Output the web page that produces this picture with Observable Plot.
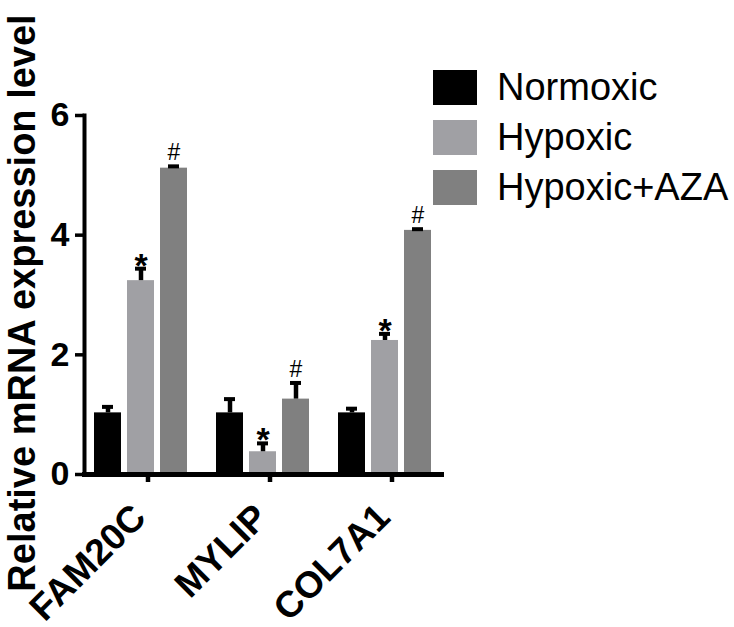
<!DOCTYPE html>
<html>
<head>
<meta charset="utf-8">
<script src="https://cdn.jsdelivr.net/npm/d3@7"></script>
<script src="https://cdn.jsdelivr.net/npm/@observablehq/plot@0.6"></script>
<style>
  html, body { margin: 0; padding: 0; background: white; }
  #wrap { position: relative; width: 734px; height: 627px; font-family: "Liberation Sans", Arial, sans-serif; }
  #legend { position: absolute; left: 433px; top: 70px; }
  .row { display: flex; align-items: center; height: 35px; margin-bottom: 15px; }
  .sw { width: 44px; height: 35px; margin-right: 20px; }
  .lab { font-size: 38px; color: black; white-space: nowrap; line-height: 35px; }
</style>
</head>
<body>
<div id="wrap"><div id="legend"></div></div>
<script>
const genes = ["FAM20C", "MYLIP", "COL7A1"];
const conditions = ["Normoxic", "Hypoxic", "Hypoxic+AZA"];
const colors = ["#000000", "#a0a0a4", "#808080"];

const normoxicMean = [1.03, 1.03, 1.03];
const normoxicSD   = [0.10, 0.23, 0.07];
const hypoxicMean  = [3.24, 0.38, 2.24];
const hypoxicSD    = [0.20, 0.14, 0.11];
const azaMean      = [5.12, 1.26, 4.08];
const azaSD        = [0.03, 0.27, 0.02];
const normoxicSig  = ["", "", ""];
const hypoxicSig   = ["*", "*", "*"];
const azaSig       = ["#", "#", "#"];

const yTicks = [0, 2, 4, 6];
const yLabel = "Relative mRNA expression level";

const means = [normoxicMean, hypoxicMean, azaMean];
const sds = [normoxicSD, hypoxicSD, azaSD];
const sigs = [normoxicSig, hypoxicSig, azaSig];
const rows = genes.flatMap((g, i) => conditions.map((c, j) => ({
  gene: g, cond: c, mean: means[j][i], sd: sds[j][i], sig: sigs[j][i]
})));
const errTop = d => d.mean + d.sd;
const font = "Liberation Sans, Arial, sans-serif";

const plot = Plot.plot({
  width: 734, height: 627,
  marginLeft: 83, marginRight: 292, marginTop: 115, marginBottom: 153,
  style: {fontFamily: font, color: "black", background: "white", overflow: "visible"},
  fx: {domain: genes, paddingInner: 0.07, paddingOuter: 0, label: null},
  x: {domain: conditions, paddingInner: 0.185, paddingOuter: 0.29, axis: null},
  y: {domain: [0, 6]},
  color: {domain: conditions, range: colors},
  marks: [
    Plot.barY(rows, {fx: "gene", x: "cond", y: "mean", fill: "cond"}),
    Plot.ruleX(rows, {fx: "gene", x: "cond", y1: "mean", y2: errTop, stroke: "black", strokeWidth: 4.5}),
    Plot.tickY(rows, {fx: "gene", x: "cond", y: errTop, stroke: "black", strokeWidth: 4, insetLeft: 8, insetRight: 8}),
    Plot.text(rows.filter(d => d.sig === "*"), {fx: "gene", x: "cond", y: errTop, text: "sig", fontSize: 34, fontWeight: "bold", lineAnchor: "bottom", dy: 8, fill: "black"}),
    Plot.text(rows.filter(d => d.sig === "#"), {fx: "gene", x: "cond", y: errTop, text: "sig", fontSize: 23, fontWeight: "normal", lineAnchor: "bottom", dy: -6, fill: "black", fontFamily: font}),
    Plot.frame({anchor: "bottom", facet: "super", stroke: "black", strokeWidth: 5}),
    Plot.frame({anchor: "left", facet: "super", stroke: "black", strokeWidth: 4}),
    Plot.axisY({ticks: yTicks, tickFormat: d => String(d), tickSize: 9, strokeWidth: 3.5, tickPadding: 6, fontSize: 34, fontWeight: "bold", label: null}),
    Plot.text([yLabel], {facet: "super", frameAnchor: "left", rotate: -90, textAnchor: "middle", lineAnchor: "bottom", dx: -50, dy: 8, fontSize: 38, fontWeight: "bold", fill: "black"}),
    Plot.axisFx({anchor: "bottom", tickSize: 8, strokeWidth: 4.5, tickRotate: -45, tickPadding: 37, lineAnchor: "bottom", dx: 7, fontSize: 37, fontWeight: "bold", label: null})
  ]
});
document.getElementById("wrap").prepend(plot);

const color = plot.scale("color");
const legend = document.getElementById("legend");
color.domain.forEach((c, i) => {
  const row = document.createElement("div");
  row.className = "row";
  const sw = document.createElement("div");
  sw.className = "sw";
  sw.style.background = color.range[i];
  const lab = document.createElement("span");
  lab.className = "lab";
  lab.textContent = c;
  row.append(sw, lab);
  legend.append(row);
});
</script>
</body>
</html>
